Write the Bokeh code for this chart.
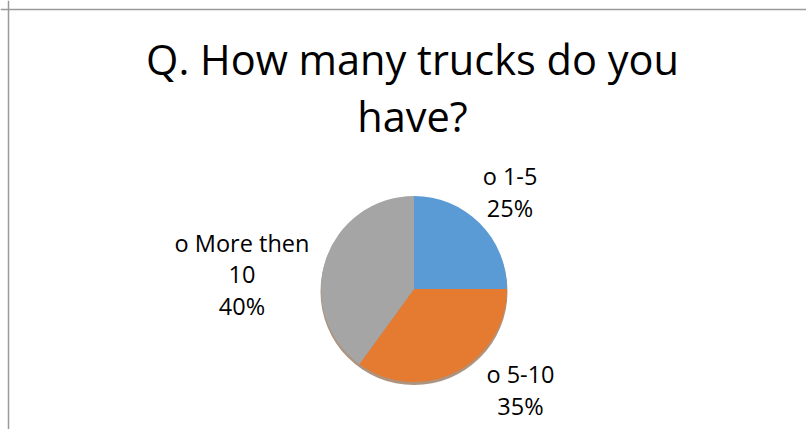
import math
from bokeh.plotting import figure
from bokeh.models import Range1d, Span, ColumnDataSource
from bokeh.core.properties import value
from bokeh.embed import file_html
from bokeh.resources import INLINE

# ---- data ----
title_lines = ["Q. How many trucks do you", "have?"]
categories = ["o 1-5", "o 5-10", "o More then 10"]
values = [25, 35, 40]
label_lines = [["o 1-5", "25%"], ["o 5-10", "35%"], ["o More then", "10", "40%"]]
colors = ["#5B9BD5", "#E57A31", "#A5A5A5"]

# ---- layout constants (screen px, y measured from top) ----
W, H = 806, 429
FONT = "Open Sans"
TITLE_FS, LABEL_FS = 41.5, 23.5
BASE_FIX = 0.39  # renderer baseline offset (em)
cx, cy, R = 413.5, 288.5, 93
label_anchor = [(509.5, 185), (520, 383), (241.5, 252)]  # centre x, first baseline
label_step = 31.5

def Y(y):
    return H - y

p = figure(width=W, height=H, x_range=Range1d(0, W), y_range=Range1d(0, H),
           output_backend="svg", toolbar_location=None, min_border=0)
p.axis.visible = False
p.grid.visible = False
p.outline_line_color = None
p.background_fill_color = "white"
p.border_fill_color = "white"

# chart frame (cropped)
p.add_layout(Span(location=8, dimension="height", line_color="#9a9a9a", line_width=1.5))
p.add_layout(Span(location=Y(9), dimension="width", line_color="#9a9a9a", line_width=1.5))

# pie angles (clockwise from 12 o'clock)
total = float(sum(values))
starts, ends = [], []
acc = 0.0
for v in values:
    a0 = math.pi / 2 - 2 * math.pi * acc / total
    acc += v
    a1 = math.pi / 2 - 2 * math.pi * acc / total
    starts.append(a0)
    ends.append(a1)

src = ColumnDataSource(dict(x=[cx] * len(values), y=[Y(cy)] * len(values),
                            start=starts, end=ends, color=colors, cat=categories))

# shadow
p.circle(x=[cx], y=[Y(cy) - 2.5], radius=R + 0.5, radius_units="screen",
         fill_color="#6b3a14", fill_alpha=0.55, line_color=None)
p.wedge(x="x", y="y", radius=R, radius_units="screen", start_angle="start",
        end_angle="end", direction="clock", fill_color="color", line_color=None,
        source=src)

# title
for i, t in enumerate(title_lines):
    p.text(x=[412], y=[Y(75 + 57 * i - BASE_FIX * TITLE_FS)], text=[t], text_font=value(FONT),
           text_font_size=f"{TITLE_FS}px", text_align="center", text_baseline="alphabetic",
           text_color="#000000")

# data labels
for (lx, ly), lines in zip(label_anchor, label_lines):
    for j, ln in enumerate(lines):
        p.text(x=[lx], y=[Y(ly + label_step * j - BASE_FIX * LABEL_FS)], text=[ln],
               text_font=value(FONT), text_font_size=f"{LABEL_FS}px", text_align="center",
               text_baseline="alphabetic", text_color="#000000")

open("out.html", "w").write(file_html(p, INLINE))
